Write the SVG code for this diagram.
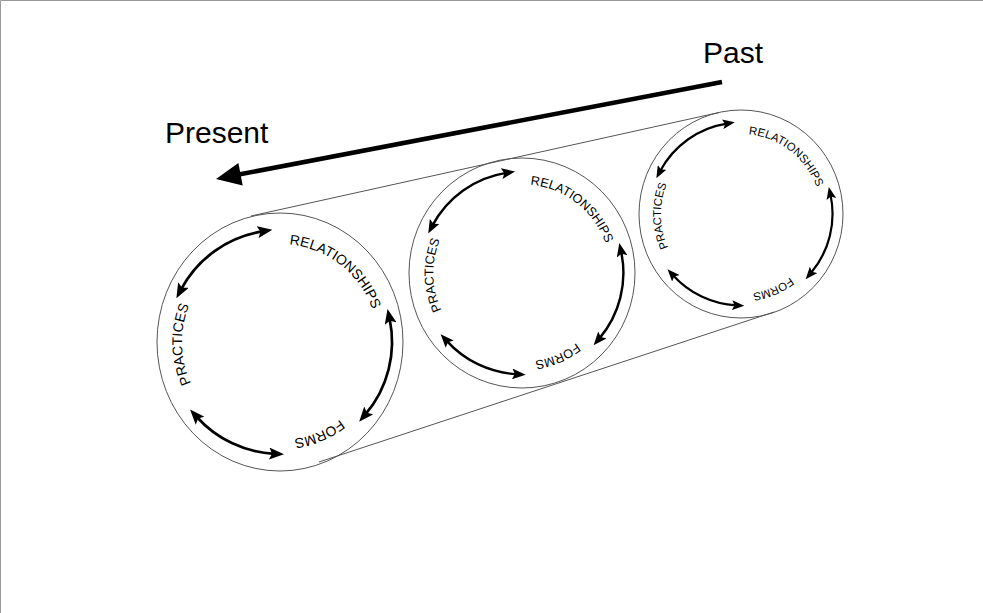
<svg xmlns="http://www.w3.org/2000/svg" xmlns:xlink="http://www.w3.org/1999/xlink" width="983" height="613" viewBox="0 0 983 613">
  <style>
    .frame{fill:none;stroke:#9a9a9a;stroke-width:1}
    .outline{fill:none;stroke:#555;stroke-width:1}
    .tangent{fill:none;stroke:#555;stroke-width:1}
    .cyc{fill:none;stroke:#000;stroke-width:2.7;marker-start:url(#head);marker-end:url(#head)}
    .lbl{font-family:"Liberation Sans",Arial,sans-serif;font-size:14px;fill:#000}
    .big{font-family:"Liberation Sans",Arial,sans-serif;font-size:30px;fill:#000}
  </style>
  <defs>
    <marker id="head" viewBox="0 0 15 12" refX="5" refY="6" markerWidth="15" markerHeight="12" markerUnits="userSpaceOnUse" orient="auto-start-reverse">
      <path d="M0,0 L15,6 L0,12 L3,6 z" fill="#000"/>
    </marker>
    <!-- clockwise ring that carries the three labels -->
    <path id="ring" d="M98,0 A98,98 0 1 1 -98,0 A98,98 0 1 1 98,0"/>
  </defs>

  <rect width="983" height="613" fill="#fff"/>
  <path class="frame" d="M0.5,613 V0.5 H983"/>

  <!-- time axis -->
  <g id="time-axis">
    <line x1="722" y1="82" x2="240" y2="174.3" stroke="#000" stroke-width="4.5"/>
    <polygon points="216,179 238.4,163 242.7,185.6" fill="#000"/>
    <text class="big" x="703" y="63">Past</text>
    <text class="big" x="165" y="143">Present</text>
  </g>

  <!-- cylinder silhouette -->
  <g id="connectors">
    <line class="tangent" x1="251" y1="216" x2="719" y2="112.5"/>
    <line class="tangent" x1="319" y1="462" x2="774" y2="312"/>
  </g>

  <!-- present -->
  <g id="cycle-present">
    <ellipse class="outline" cx="280" cy="342" rx="123" ry="129"/>
    <g transform="translate(280,342)">
      <path class="cyc" d="M-98.9,-52.6 A112,112 0 0 1 -17.5,-110.6"/>
      <path class="cyc" d="M109.6,-23.3 A112,112 0 0 1 85.6,72.2"/>
      <path class="cyc" d="M-5.9,111.8 A112,112 0 0 1 -83.2,75.0"/>
      <text class="lbl"><textPath xlink:href="#ring" href="#ring" startOffset="88.9">FORMS</textPath></text>
      <text class="lbl"><textPath xlink:href="#ring" href="#ring" startOffset="265">PRACTICES</textPath></text>
      <text class="lbl"><textPath xlink:href="#ring" href="#ring" startOffset="470.4">RELATIONSHIPS</textPath></text>
    </g>
  </g>

  <!-- middle -->
  <g id="cycle-middle">
    <ellipse class="outline" cx="522" cy="273" rx="113" ry="115"/>
    <g transform="translate(522,273) scale(0.905)">
      <path class="cyc" d="M-98.9,-52.6 A112,112 0 0 1 -17.5,-110.6"/>
      <path class="cyc" d="M109.6,-23.3 A112,112 0 0 1 85.6,72.2"/>
      <path class="cyc" d="M-5.9,111.8 A112,112 0 0 1 -83.2,75.0"/>
      <text class="lbl"><textPath xlink:href="#ring" href="#ring" startOffset="88.9">FORMS</textPath></text>
      <text class="lbl"><textPath xlink:href="#ring" href="#ring" startOffset="265">PRACTICES</textPath></text>
      <text class="lbl"><textPath xlink:href="#ring" href="#ring" startOffset="470.4">RELATIONSHIPS</textPath></text>
    </g>
  </g>

  <!-- past -->
  <g id="cycle-past">
    <ellipse class="outline" cx="741" cy="214" rx="102" ry="104"/>
    <g transform="translate(741,214) scale(0.817)">
      <path class="cyc" d="M-98.9,-52.6 A112,112 0 0 1 -17.5,-110.6"/>
      <path class="cyc" d="M109.6,-23.3 A112,112 0 0 1 85.6,72.2"/>
      <path class="cyc" d="M-5.9,111.8 A112,112 0 0 1 -83.2,75.0"/>
      <text class="lbl"><textPath xlink:href="#ring" href="#ring" startOffset="88.9">FORMS</textPath></text>
      <text class="lbl"><textPath xlink:href="#ring" href="#ring" startOffset="265">PRACTICES</textPath></text>
      <text class="lbl"><textPath xlink:href="#ring" href="#ring" startOffset="470.4">RELATIONSHIPS</textPath></text>
    </g>
  </g>
</svg>
